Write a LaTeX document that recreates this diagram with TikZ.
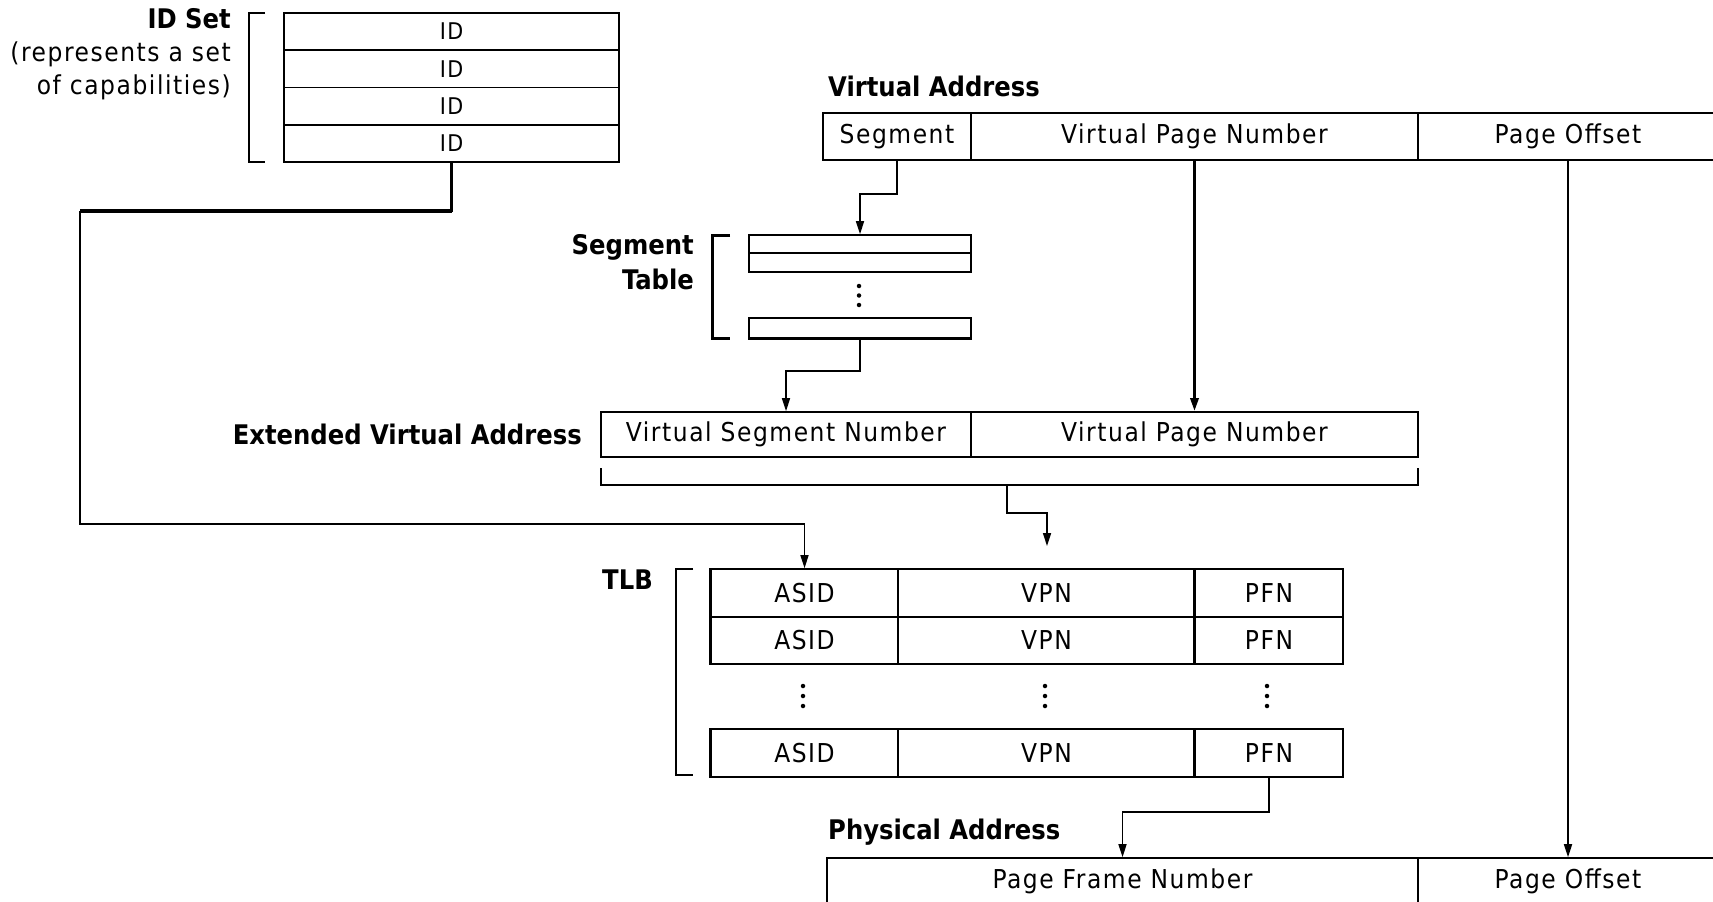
\documentclass[tikz,border=0pt]{standalone}
\usepackage{fontspec}
\setmainfont{DejaVu Sans Condensed}[LetterSpace=6]
\newfontfamily\lblfont{DejaVu Sans Condensed}[BoldFont={DejaVu Sans Condensed Bold}]
\usetikzlibrary{arrows.meta}
\begin{document}
\begin{tikzpicture}[x=1pt,y=-1pt,
  every node/.style={font=\fontsize{26}{30}\selectfont},
  cell/.style={draw, line width=1.6pt, inner sep=0pt, anchor=center},
  idcell/.style={cell, font=\fontsize{23}{27}\selectfont},
  lbl/.style={font=\fontsize{27}{35}\selectfont\lblfont\bfseries, inner sep=0pt},
  conn/.style={line width=1.6pt},
  thk/.style={line width=3pt},
  arr/.style={-{Triangle[length=13pt,width=8pt]}},
  brk/.style={line width=1.6pt},
  dot/.style={circle, fill, inner sep=0pt, minimum size=4.5pt}
]
\useasboundingbox (0,0) rectangle (1713,902);
\clip (0,0) rectangle (1713,902);
\fill[white] (0,0) rectangle (1713,902);

% ID set
\foreach \i/\yc in {1/31.6,2/68.9,3/106.1,4/143.4}
  \node[idcell, minimum width=335pt, minimum height=37.25pt] (id\i) at (451.5,\yc) {ID};
\draw[brk] (265,13) -- (249,13) -- (249,162) -- (265,162);
\node[align=right, anchor=east, inner sep=0pt, font=\fontsize{26}{33}\selectfont] (idlbl) at (231,54)
  {{\lblfont\bfseries\fontsize{27}{33}\selectfont ID Set}\\(represents a set\\of capabilities)};

% Virtual address
\node[lbl, anchor=west] (valbl) at (828,86) {Virtual Address};
\node[cell, minimum width=148pt, minimum height=47pt] (seg) at (897,136.5) {Segment};
\node[cell, minimum width=447pt, minimum height=47pt] (vpn) at (1194.5,136.5) {Virtual Page Number};
\node[cell, minimum width=300pt, minimum height=47pt] (poff) at (1568,136.5) {Page Offset};

% Segment table
\node[cell, minimum width=222pt, minimum height=18pt] (st1) at (860,244) {};
\node[cell, minimum width=222pt, minimum height=19pt] (st2) at (860,262.5) {};
\foreach \k/\yy in {a/286,b/295.5,c/305}
  \node[dot] (std\k) at (859,\yy) {};
\node[cell, minimum width=222pt, minimum height=20pt] (st3) at (860,328) {};
\draw[thk] (st3.south west) -- (st3.south east);
\draw[thk] (730,235) -- (712,235) -- (712,338) -- (730,338);
\node[lbl, align=right, anchor=east] (stlbl) at (694,262.5) {Segment\\Table};

% Extended virtual address
\node[lbl, anchor=east] (evalbl) at (582,434) {Extended Virtual Address};
\node[cell, minimum width=370pt, minimum height=45pt] (vsn) at (786,434.5) {Virtual Segment Number};
\node[cell, minimum width=447pt, minimum height=45pt] (evpn) at (1194.5,434.5) {Virtual Page Number};
\coordinate (bl) at (601,468);
\coordinate (br) at (1418,468);
\draw[brk] (bl) -- (601,485) -- (1418,485) -- (br);

% TLB
\node[lbl, anchor=east] (tlblbl) at (653,580) {TLB};
\draw[brk] (693,569) -- (676,569) -- (676,775) -- (693,775);
\foreach \r/\yc/\h in {1/593/48,2/640.5/47,3/753/48}{
  \node[cell, minimum width=187pt, minimum height=\h pt] (asid\r) at (804.5,\yc) {ASID};
  \node[cell, minimum width=297pt, minimum height=\h pt] (tvpn\r) at (1046.5,\yc) {VPN};
  \node[cell, minimum width=148pt, minimum height=\h pt] (pfn\r) at (1269,\yc) {PFN};
}
\draw[thk] (asid1.north west) -- (asid2.south west);
\draw[thk] (asid3.north west) -- (asid3.south west);
\draw[thk] (pfn1.north west) -- (pfn2.south west);
\draw[thk] (pfn3.north west) -- (pfn3.south west);
\foreach \c/\xx in {1/803,2/1045,3/1267}
  \foreach \k/\yy in {a/686,b/696,c/706}
    \node[dot] (td\c\k) at (\xx,\yy) {};

% Physical address
\node[lbl, anchor=west] (palbl) at (828,832) {Physical Address};
\node[cell, minimum width=591pt, minimum height=47pt] (pfa) at (1122.5,881.5) {Page Frame Number};
\node[cell, minimum width=300pt, minimum height=47pt] (ppoff) at (1568,881.5) {Page Offset};

% Connectors
\coordinate (idturn) at (80,211);
\coordinate (idturn2) at (80,524);
\draw[line width=2.2pt] (id4.south) |- (idturn);
\draw[line width=3.5pt] (452,211) -- (idturn);
\draw[conn, arr] (idturn) -- (idturn2) -| (asid1.north);

\coordinate (segturn) at (860,194);
\draw[conn, arr] (seg.south) |- (segturn) -- (st1.north);

\coordinate (stturn) at (786,371);
\draw[conn, arr] (st3.south) |- (stturn) -- (vsn.north);

\draw[thk, arr] (vpn.south) -- (evpn.north);

\coordinate (brk) at (1007,485);
\coordinate (brkturn) at (1047,513);
\coordinate (brkend) at (1047,546);
\draw[conn, arr] (brk) |- (brkturn) -- (brkend);

\coordinate (pfnturn) at (1122.5,812);
\draw[conn, arr] (pfn3.south) |- (pfnturn) -- (pfa.north);

\draw[conn, arr] (poff.south) -- (ppoff.north);
\end{tikzpicture}
\end{document}
